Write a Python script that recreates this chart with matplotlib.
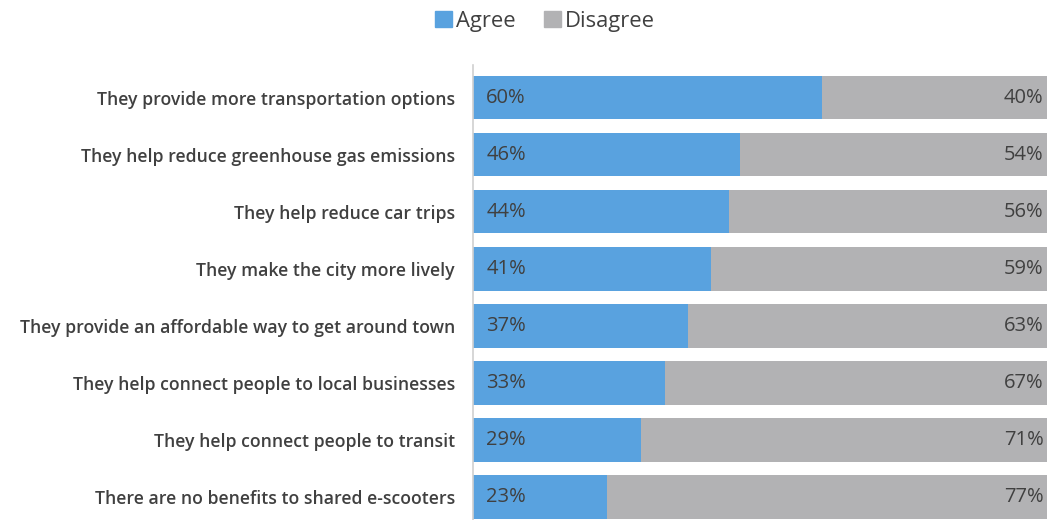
import matplotlib
matplotlib.use("Agg")
import matplotlib.pyplot as plt
from matplotlib.patches import Patch

categories = [
    "They provide more transportation options",
    "They help reduce greenhouse gas emissions",
    "They help reduce car trips",
    "They make the city more lively",
    "They provide an affordable way to get around town",
    "They help connect people to local businesses",
    "They help connect people to transit",
    "There are no benefits to shared e-scooters",
]
agree = [60, 46, 44, 41, 37, 33, 29, 23]
disagree = [40, 54, 56, 59, 63, 67, 71, 77]
series_names = ["Agree", "Disagree"]

BLUE = "#59A2DF"
GRAY = "#B2B2B4"
TXT = "#404040"

plt.rcParams["font.family"] = ["Open Sans", "DejaVu Sans"]

fig = plt.figure(figsize=(10.47, 5.2), dpi=100)
W, H = 1047, 520
ax = fig.add_axes([473 / W, 0, 1 - 473 / W, (520 - 65) / H])

y = list(range(len(categories)))
ax.barh(y, agree, height=0.76, color=BLUE, label=series_names[0])
ax.barh(y, disagree, left=agree, height=0.76, color=GRAY, label=series_names[1])

ax.set_xlim(0, 98.8)
ax.set_ylim(7.4, -0.57)

for i, (a, d) in enumerate(zip(agree, disagree)):
    ax.text(2.3, i, f"{a}%", va="center", ha="left", fontsize=14.5, color=TXT)
    ax.text(98.2, i, f"{d}%", va="center", ha="right", fontsize=14.5, color=TXT)

ax.set_yticks(y)
ax.set_yticklabels(categories, fontsize=12.7, color=TXT, fontweight="semibold")
ax.tick_params(axis="y", length=0, pad=13)
ax.set_xticks([])
for s in ["top", "right", "bottom"]:
    ax.spines[s].set_visible(False)
ax.spines["left"].set_color("#D0D0D0")
ax.spines["left"].set_linewidth(1.2)

handles = [Patch(color=BLUE), Patch(color=GRAY)]
fig.legend(handles, series_names, loc="center", bbox_to_anchor=(545 / W, 1 - 21 / H),
           ncol=2, frameon=False, fontsize=15.8, handlelength=0.75, handleheight=0.75,
           handletextpad=0.2, columnspacing=1.3, labelcolor=TXT)

fig.savefig("out.png", dpi=100)
